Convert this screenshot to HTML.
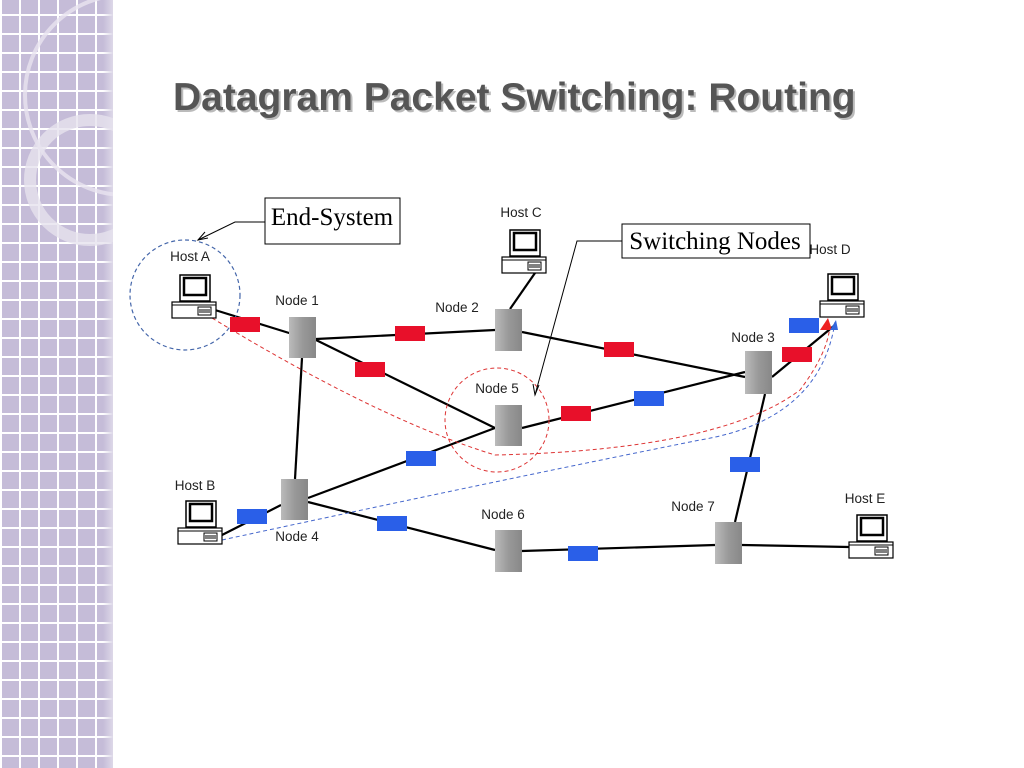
<!DOCTYPE html>
<html><head><meta charset="utf-8"><style>
body{margin:0;width:1024px;height:768px;overflow:hidden;background:#fff;font-family:"Liberation Sans",sans-serif}
#side{position:absolute;left:0;top:0;width:113px;height:768px;background-color:#c5bcd8;
background-image:linear-gradient(#fff 2px,transparent 2px),linear-gradient(90deg,#fff 2px,transparent 2px);background-size:19px 19px;background-position:0 -5px}
#side:after{content:"";position:absolute;right:0;top:0;width:10px;height:768px;background:linear-gradient(90deg,rgba(200,190,220,0),#ddd8e8)}
svg{position:absolute;left:0;top:0}
</style></head><body>
<div id="side"></div>
<svg width="1024" height="768" viewBox="0 0 1024 768">
<defs>
<g id="pc">
<rect x="8" y="0" width="30" height="26" fill="#fff" stroke="#000" stroke-width="1.5"/>
<rect x="12" y="3" width="22" height="17" fill="#fff" stroke="#000" stroke-width="2.5"/>
<rect x="0" y="27" width="44" height="16" fill="#fff" stroke="#000" stroke-width="1.2"/>
<line x1="0" y1="30" x2="44" y2="30" stroke="#000"/>
<rect x="26" y="32" width="13" height="8" fill="#fff" stroke="#000"/>
<line x1="27" y1="35" x2="38" y2="35" stroke="#000"/><line x1="27" y1="37" x2="38" y2="37" stroke="#000"/>
</g>
<linearGradient id="ng" x1="0" x2="1"><stop offset="0" stop-color="#bbb"/><stop offset="0.5" stop-color="#999"/><stop offset="1" stop-color="#888"/></linearGradient>
<clipPath id="sc"><rect x="0" y="0" width="113" height="768"/></clipPath>
</defs>
<g clip-path="url(#sc)">
<circle cx="125" cy="95" r="100" fill="none" stroke="#e8e4f0" stroke-width="4" opacity="0.8"/>
<circle cx="90" cy="180" r="60" fill="none" stroke="#e6e2ee" stroke-width="12" opacity="0.8"/>
</g>
<text x="175" y="112" font-size="39" font-weight="bold" fill="#bbb">Datagram Packet Switching: Routing</text>
<text x="173" y="110" font-size="39" font-weight="bold" fill="#555">Datagram Packet Switching: Routing</text>
<g stroke="#000" stroke-width="2.2" fill="none">
<line x1="215" y1="310" x2="302" y2="337"/>
<line x1="316" y1="339" x2="495" y2="330"/>
<line x1="316" y1="340" x2="495" y2="428"/>
<line x1="302" y1="358" x2="295" y2="479"/>
<line x1="510" y1="309" x2="535" y2="273"/>
<line x1="522" y1="332" x2="745" y2="377"/>
<line x1="522" y1="428" x2="745" y2="372"/>
<line x1="308" y1="498" x2="495" y2="428"/>
<line x1="281" y1="505" x2="222" y2="535"/>
<line x1="308" y1="502" x2="495" y2="550"/>
<line x1="522" y1="551" x2="715" y2="545"/>
<line x1="735" y1="522" x2="765" y2="394"/>
<line x1="742" y1="545" x2="849" y2="547"/>
<line x1="772" y1="377" x2="835" y2="325"/>
</g>
<path d="M212 318 Q380 420 495 455 Q720 450 800 390 Q830 350 830 322" fill="none" stroke="#d33" stroke-width="1" stroke-dasharray="4,3"/>
<path d="M222 540 Q500 480 700 440 Q820 420 835 322" fill="none" stroke="#4466cc" stroke-width="1" stroke-dasharray="4,3"/>
<circle cx="185" cy="295" r="55" fill="none" stroke="#4466aa" stroke-width="1.2" stroke-dasharray="4,3"/>
<circle cx="497" cy="420" r="52" fill="none" stroke="#d33" stroke-width="1" stroke-dasharray="4,3"/>
<polygon points="820,330 828,318 832,330" fill="#e22"/>
<polygon points="830,330 836,320 838,330" fill="#36d"/>
<g fill="url(#ng)">
<rect x="289" y="317" width="27" height="41"/>
<rect x="495" y="309" width="27" height="42"/>
<rect x="495" y="405" width="27" height="41"/>
<rect x="745" y="351" width="27" height="43"/>
<rect x="281" y="479" width="27" height="41"/>
<rect x="495" y="530" width="27" height="42"/>
<rect x="715" y="522" width="27" height="42"/>
</g>
<g fill="#e8102a">
<rect x="230" y="317" width="30" height="15"/><rect x="395" y="326" width="30" height="15"/>
<rect x="355" y="362" width="30" height="15"/><rect x="604" y="342" width="30" height="15"/>
<rect x="561" y="406" width="30" height="15"/><rect x="782" y="347" width="30" height="15"/>
</g>
<g fill="#2a5fe8">
<rect x="789" y="318" width="30" height="15"/><rect x="634" y="391" width="30" height="15"/>
<rect x="406" y="451" width="30" height="15"/><rect x="237" y="509" width="30" height="15"/>
<rect x="377" y="516" width="30" height="15"/><rect x="730" y="457" width="30" height="15"/>
<rect x="568" y="546" width="30" height="15"/>
</g>
<use href="#pc" x="172" y="275"/>
<use href="#pc" x="178" y="501"/>
<use href="#pc" x="502" y="230"/>
<use href="#pc" x="820" y="274"/>
<use href="#pc" x="849" y="515"/>
<g font-size="13.5" fill="#222" text-anchor="middle">
<text x="190" y="261">Host A</text><text x="297" y="305">Node 1</text>
<text x="457" y="312">Node 2</text><text x="497" y="393">Node 5</text>
<text x="753" y="342">Node 3</text><text x="297" y="541">Node 4</text>
<text x="503" y="519">Node 6</text><text x="693" y="511">Node 7</text>
<text x="195" y="490">Host B</text><text x="521" y="217">Host C</text>
<text x="830" y="254">Host D</text><text x="865" y="503">Host E</text>
</g>
<rect x="265" y="198" width="135" height="46" fill="#fff" stroke="#000"/>
<text x="332" y="225" font-family="Liberation Serif,serif" font-size="25" text-anchor="middle">End-System</text>
<polyline points="265,222 235,222 198,240" fill="none" stroke="#000"/>
<polyline points="205,232 198,240 208,238" fill="none" stroke="#000"/>
<rect x="622" y="224" width="188" height="34" fill="#fff" stroke="#000"/>
<text x="715" y="249" font-family="Liberation Serif,serif" font-size="25" text-anchor="middle">Switching Nodes</text>
<polyline points="622,241 577,241 535,395" fill="none" stroke="#000"/>
<polyline points="533,384 535,395 539,385" fill="none" stroke="#000"/>
</svg>
</body></html>
